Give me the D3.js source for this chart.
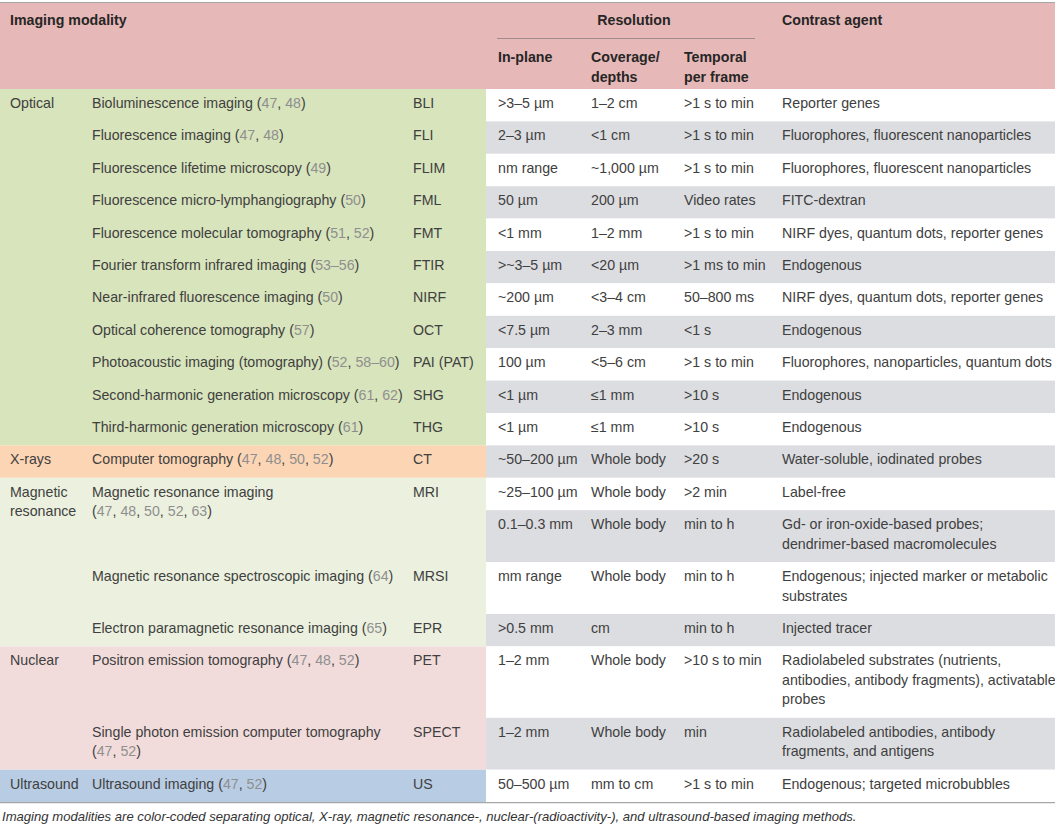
<html>
<head>
<meta charset="UTF-8">
<script src="https://d3js.org/d3.v7.min.js"></script>
<style>
    body { margin: 0; background: #fff; }
    svg text { font-family: "Liberation Sans", Arial, sans-serif; }
</style>
</head>
<body>
<svg width="1055" height="827"></svg>
<script>
    const groups = ["Optical", "X-rays", "Magnetic resonance", "Nuclear", "Ultrasound"];
    const groupLabels = [["Optical"], ["X-rays"], ["Magnetic", "resonance"], ["Nuclear"], ["Ultrasound"]];
    const groupColors = ["#d8e4bc", "#fcd5b4", "#ebf1de", "#f2dcdb", "#b8cce4"];

    // group index of every right-hand row
    const rowGroup = [0,0,0,0,0,0,0,0,0,0,0, 1, 2,2,2,2, 3,3, 4];

    // modality name lines (null = continuation row of MRI)
    const modalityNames = [
        ["Bioluminescence imaging (47, 48)"],
        ["Fluorescence imaging (47, 48)"],
        ["Fluorescence lifetime microscopy (49)"],
        ["Fluorescence micro-lymphangiography (50)"],
        ["Fluorescence molecular tomography (51, 52)"],
        ["Fourier transform infrared imaging (53–56)"],
        ["Near-infrared fluorescence imaging (50)"],
        ["Optical coherence tomography (57)"],
        ["Photoacoustic imaging (tomography) (52, 58–60)"],
        ["Second-harmonic generation microscopy (61, 62)"],
        ["Third-harmonic generation microscopy (61)"],
        ["Computer tomography (47, 48, 50, 52)"],
        ["Magnetic resonance imaging", "(47, 48, 50, 52, 63)"],
        null,
        ["Magnetic resonance spectroscopic imaging (64)"],
        ["Electron paramagnetic resonance imaging (65)"],
        ["Positron emission tomography (47, 48, 52)"],
        ["Single photon emission computer tomography", "(47, 52)"],
        ["Ultrasound imaging (47, 52)"]
    ];
    const abbreviations = ["BLI","FLI","FLIM","FML","FMT","FTIR","NIRF","OCT","PAI (PAT)","SHG","THG",
        "CT","MRI",null,"MRSI","EPR","PET","SPECT","US"];

    const inPlane = [">3–5 µm","2–3 µm","nm range","50 µm","<1 mm",">~3–5 µm","~200 µm","<7.5 µm","100 µm",
        "<1 µm","<1 µm","~50–200 µm","~25–100 µm","0.1–0.3 mm","mm range",">0.5 mm","1–2 mm","1–2 mm","50–500 µm"];
    const coverage = ["1–2 cm","<1 cm","~1,000 µm","200 µm","1–2 mm","<20 µm","<3–4 cm","2–3 mm","<5–6 cm",
        "≤1 mm","≤1 mm","Whole body","Whole body","Whole body","Whole body","cm","Whole body","Whole body","mm to cm"];
    const temporal = [">1 s to min",">1 s to min",">1 s to min","Video rates",">1 s to min",">1 ms to min",
        "50–800 ms","<1 s",">1 s to min",">10 s",">10 s",">20 s",">2 min","min to h","min to h","min to h",
        ">10 s to min","min",">1 s to min"];
    const contrastAgents = [
        ["Reporter genes"],
        ["Fluorophores, fluorescent nanoparticles"],
        ["Fluorophores, fluorescent nanoparticles"],
        ["FITC-dextran"],
        ["NIRF dyes, quantum dots, reporter genes"],
        ["Endogenous"],
        ["NIRF dyes, quantum dots, reporter genes"],
        ["Endogenous"],
        ["Fluorophores, nanoparticles, quantum dots"],
        ["Endogenous"],
        ["Endogenous"],
        ["Water-soluble, iodinated probes"],
        ["Label-free"],
        ["Gd- or iron-oxide-based probes;", "dendrimer-based macromolecules"],
        ["Endogenous; injected marker or metabolic", "substrates"],
        ["Injected tracer"],
        ["Radiolabeled substrates (nutrients,", "antibodies, antibody fragments), activatable", "probes"],
        ["Radiolabeled antibodies, antibody", "fragments, and antigens"],
        ["Endogenous; targeted microbubbles"]
    ];

    const headerTop = "Imaging modality";
    const headerResolution = "Resolution";
    const headerContrast = "Contrast agent";
    const subHeaders = [["In-plane"], ["Coverage/", "depths"], ["Temporal", "per frame"]];
    const caption = "Imaging modalities are color-coded separating optical, X-ray, magnetic resonance-, nuclear-(radioactivity-), and ultrasound-based imaging methods.";

    // ---- layout ----
    const W = 1055;
    const headerY0 = 3, headerY1 = 89;
    const lineH = 19.5, rowPad = 12.9, baseOff = 19;
    const colX = {group: 10, name: 92, abbr: 413, leftEnd: 486, inPlane: 498, coverage: 591, temporal: 684, contrast: 782};
    const textColor = "#404040", refColor = "#8f8f8f";
    const fs = 14.2;

    const svg = d3.select("svg");

    const rowHeights = contrastAgents.map(c => rowPad + lineH * c.length);
    const rowTops = [headerY1, ...d3.cumsum(rowHeights).map(v => headerY1 + v)];
    const tableBottom = rowTops[rowTops.length - 1];

    // header background
    svg.append("rect").attr("x", 0).attr("y", headerY0).attr("width", W).attr("height", headerY1 - headerY0)
        .attr("fill", "#e6b8b7");
    svg.append("line").attr("x1", 0).attr("x2", W).attr("y1", 2.5).attr("y2", 2.5)
        .attr("stroke", "#a6a6a6").attr("stroke-width", 1.2);

    // right-hand striped rows
    svg.selectAll("rect.stripe").data(rowHeights).enter().append("rect")
        .attr("class", "stripe")
        .attr("x", colX.leftEnd).attr("width", W - colX.leftEnd)
        .attr("y", (d, i) => rowTops[i]).attr("height", d => d)
        .attr("fill", (d, i) => i % 2 ? "#dcdde0" : "#ffffff");

    // group blocks on the left
    const groupSpans = groups.map((g, gi) => {
        const idx = rowGroup.map((v, i) => v === gi ? i : -1).filter(i => i >= 0);
        return {gi, first: d3.min(idx), last: d3.max(idx)};
    });
    svg.selectAll("rect.group").data(groupSpans).enter().append("rect")
        .attr("class", "group")
        .attr("x", 0).attr("width", colX.leftEnd)
        .attr("y", d => rowTops[d.first])
        .attr("height", d => rowTops[d.last + 1] - rowTops[d.first])
        .attr("fill", d => groupColors[d.gi]);

    svg.append("line").attr("x1", 0).attr("x2", W).attr("y1", tableBottom + 0.5).attr("y2", tableBottom + 0.5)
        .attr("stroke", "#a6a6a6").attr("stroke-width", 1.2);

    // helper: multi-line text
    function addLines(x, y, lines, opts = {}) {
        const t = svg.append("text").attr("x", x).attr("y", y)
            .attr("font-size", opts.size || fs)
            .attr("font-weight", opts.weight || "normal")
            .attr("fill", opts.color || textColor)
            .attr("text-anchor", opts.anchor || "start");
        lines.forEach((ln, k) => {
            const ts = t.append("tspan").attr("x", x).attr("dy", k === 0 ? 0 : lineH);
            if (opts.refs) {
                ln.split(/(\d+(?:–\d+)?)/).forEach(part => {
                    if (!part) return;
                    ts.append("tspan").attr("fill", /^\d/.test(part) ? refColor : textColor).text(part);
                });
            } else {
                ts.text(ln);
            }
        });
        return t;
    }

    // header texts
    addLines(colX.group, 25, [headerTop], {weight: "bold", color: "#262626"});
    addLines(634, 25, [headerResolution], {weight: "bold", color: "#262626", anchor: "middle"});
    addLines(colX.contrast, 25, [headerContrast], {weight: "bold", color: "#262626"});
    svg.append("line").attr("x1", 497).attr("x2", 755).attr("y1", 38.5).attr("y2", 38.5)
        .attr("stroke", "#a08c8c").attr("stroke-width", 1);
    [colX.inPlane, colX.coverage, colX.temporal].forEach((x, i) =>
        addLines(x, 62, subHeaders[i], {weight: "bold", color: "#262626"}));

    // group labels
    groupSpans.forEach(g => addLines(colX.group, rowTops[g.first] + baseOff, groupLabels[g.gi]));

    // rows
    contrastAgents.forEach((c, i) => {
        const y = rowTops[i] + baseOff;
        if (modalityNames[i]) addLines(colX.name, y, modalityNames[i], {refs: true});
        if (abbreviations[i]) addLines(colX.abbr, y, [abbreviations[i]]);
        addLines(colX.inPlane, y, [inPlane[i]]);
        addLines(colX.coverage, y, [coverage[i]]);
        addLines(colX.temporal, y, [temporal[i]]);
        addLines(colX.contrast, y, c);
    });

    // caption
    svg.append("text").attr("x", 2).attr("y", tableBottom + 19)
        .attr("font-size", 13.1).attr("font-style", "italic").attr("fill", "#333")
        .text(caption);
</script>
</body>
</html>
